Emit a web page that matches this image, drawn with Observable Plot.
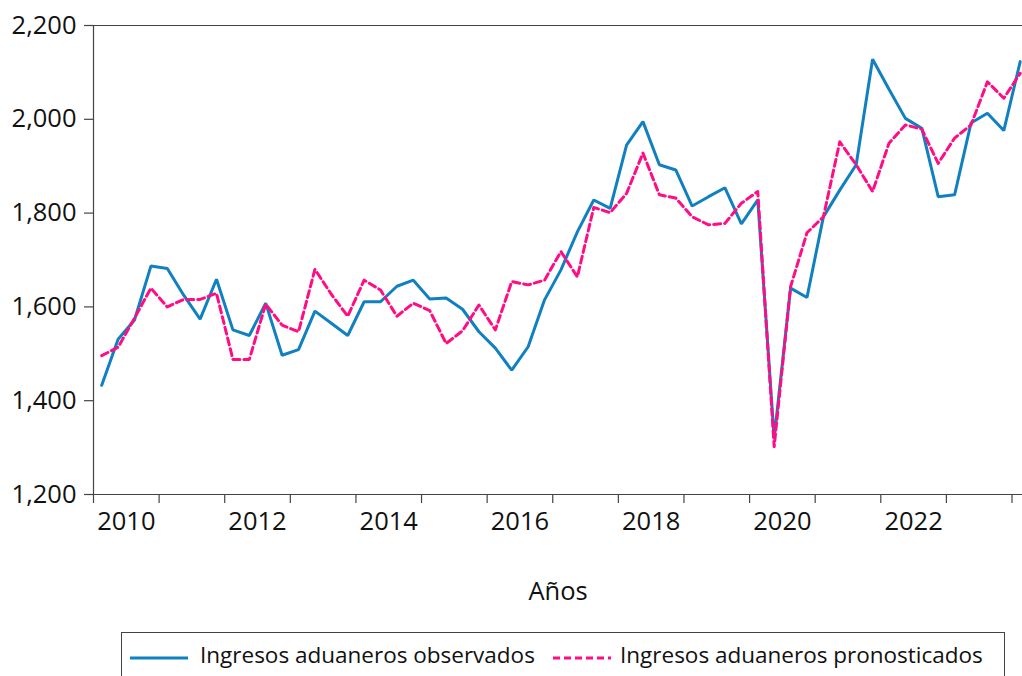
<!DOCTYPE html>
<html>
<head>
<meta charset="utf-8">
<script src="https://cdn.jsdelivr.net/npm/d3@7"></script>
<script src="https://cdn.jsdelivr.net/npm/@observablehq/plot@0.6"></script>
<style>
  html, body { margin: 0; padding: 0; background: #fff; }
  #wrap { position: relative; width: 1022px; height: 676px; overflow: hidden; font-family: "Open Sans", sans-serif; }
  #legend { position: absolute; left: 121px; top: 632px; width: 884px; height: 60px; border: 1px solid #444; box-sizing: border-box; }
  #legend .sw { position: absolute; top: 22px; }
  #legend .lab { position: absolute; top: 8px; font-size: 22.5px; color: #111; white-space: nowrap; line-height: 28px; }
</style>
</head>
<body>
<div id="wrap">
  <div id="chart"></div>
  <div id="legend"></div>
</div>
<script>
const periods = [
  "2010Q1","2010Q2","2010Q3","2010Q4","2011Q1","2011Q2","2011Q3","2011Q4",
  "2012Q1","2012Q2","2012Q3","2012Q4","2013Q1","2013Q2","2013Q3","2013Q4",
  "2014Q1","2014Q2","2014Q3","2014Q4","2015Q1","2015Q2","2015Q3","2015Q4",
  "2016Q1","2016Q2","2016Q3","2016Q4","2017Q1","2017Q2","2017Q3","2017Q4",
  "2018Q1","2018Q2","2018Q3","2018Q4","2019Q1","2019Q2","2019Q3","2019Q4",
  "2020Q1","2020Q2","2020Q3","2020Q4","2021Q1","2021Q2","2021Q3","2021Q4",
  "2022Q1","2022Q2","2022Q3","2022Q4","2023Q1","2023Q2","2023Q3","2023Q4",
  "2024Q1"
];
const observed = [
  1433,1531,1572,1687,1682,1625,1574,1659,
  1551,1539,1608,1497,1509,1591,1565,1539,
  1611,1611,1644,1657,1617,1619,1595,1547,
  1512,1465,1515,1615,1679,1760,1828,1810,
  1945,1995,1903,1892,1815,1835,1854,1777,
  1828,1320,1640,1620,1792,1849,1903,2128,
  2064,2002,1981,1835,1839,1992,2013,1976,
  2123
];
const forecast = [
  1496,1514,1576,1640,1600,1616,1616,1629,
  1488,1488,1606,1561,1547,1680,1627,1580,
  1657,1636,1580,1608,1592,1522,1549,1604,
  1551,1654,1647,1657,1718,1664,1812,1801,
  1842,1928,1839,1832,1792,1775,1778,1821,
  1846,1302,1643,1758,1792,1952,1903,1846,
  1949,1988,1979,1906,1960,1988,2080,2045,
  2098
];
const yearTicks = [2010,2011,2012,2013,2014,2015,2016,2017,2018,2019,2020,2021,2022,2023,2024];
const yearLabels = ["2010","2012","2014","2016","2018","2020","2022"];
const yTicks = [1200,1400,1600,1800,2000,2200];
const seriesNames = ["Ingresos aduaneros observados", "Ingresos aduaneros pronosticados"];
const xTitle = "Años";

const colObs = "#1180c0";
const colFc = "#ff0d85";

function toX(p) {
  const y = +p.slice(0, 4), q = +p.slice(5);
  return y + (q - 0.5) / 4;
}
const obsData = periods.map((p, i) => ({x: toX(p), v: observed[i]}));
const fcData = periods.map((p, i) => ({x: toX(p), v: forecast[i]}));

const fmt = d3.format(",");

const chart = Plot.plot({
  width: 1022,
  height: 620,
  marginLeft: 93,
  marginRight: 0,
  marginTop: 25,
  marginBottom: 126,
  style: {fontFamily: "'Open Sans', sans-serif", fontSize: "25.5px", color: "#111", background: "#fff"},
  x: {domain: [2010, 2024.16], label: null},
  y: {domain: [1200, 2200], label: null},
  marks: [
    Plot.ruleY([2200], {stroke: "#444", strokeWidth: 1.2}),
    Plot.ruleY([1200], {stroke: "#444", strokeWidth: 1.2}),
    Plot.ruleX([2010], {stroke: "#444", strokeWidth: 1.2}),
    Plot.axisY({ticks: yTicks, tickFormat: fmt, tickSize: 9, tickPadding: 8, stroke: "#444", strokeWidth: 1.2, label: null, fontSize: 25.5}),
    Plot.axisX({ticks: yearTicks, tickFormat: () => "", tickSize: 9, stroke: "#444", strokeWidth: 1.2, label: null}),
    Plot.axisX({ticks: yearLabels.map(d => +d + 0.5), tickFormat: d => String(Math.floor(d)), tickSize: 0, tickPadding: 17, label: null, fontSize: 25.5}),
    Plot.line(obsData, {x: "x", y: "v", stroke: colObs, strokeWidth: 3, strokeLinejoin: "miter"}),
    Plot.line(fcData, {x: "x", y: "v", stroke: colFc, strokeWidth: 3, strokeDasharray: "7,4"}),
    Plot.text([xTitle], {frameAnchor: "bottom", dy: 97, text: d => d, fontSize: 25.5, fill: "#111", lineAnchor: "middle"})
  ]
});
document.getElementById("chart").appendChild(chart);

const legend = document.getElementById("legend");
legend.innerHTML = `
  <svg class="sw" style="left:8px" width="60" height="6"><line x1="0" y1="3" x2="58" y2="3" stroke="${colObs}" stroke-width="3"/></svg>
  <div class="lab" style="left:78px">${seriesNames[0]}</div>
  <svg class="sw" style="left:431px" width="60" height="6"><line x1="0" y1="3" x2="58" y2="3" stroke="${colFc}" stroke-width="3" stroke-dasharray="7,4"/></svg>
  <div class="lab" style="left:498px">${seriesNames[1]}</div>
`;
</script>
</body>
</html>
